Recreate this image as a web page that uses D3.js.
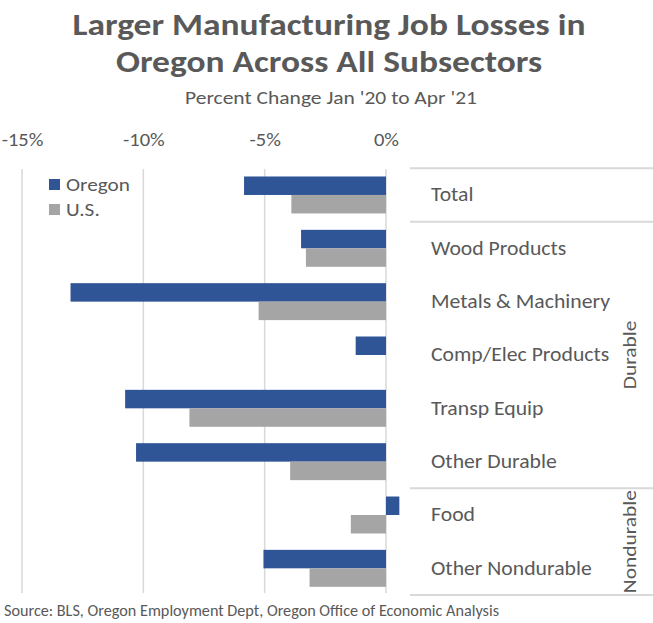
<!DOCTYPE html>
<html>
<head>
<meta charset="utf-8">
<script src="https://cdn.jsdelivr.net/npm/d3@7"></script>
<style>
  html, body { margin: 0; padding: 0; background: #ffffff; }
  svg { display: block; }
  text { font-family: Carlito, Calibri, Lato, "Open Sans", sans-serif; fill: #595959; }
</style>
</head>
<body>
<svg id="chart" width="653" height="623"></svg>
<script>
// Manufacturing subsectors, percent change Jan '20 to Apr '21
const categories = ["Total", "Wood Products", "Metals & Machinery", "Comp/Elec Products",
                    "Transp Equip", "Other Durable", "Food", "Other Nondurable"];
const seriesNames = ["Oregon", "U.S."];
const oregon = [-5.85, -3.5, -13.0, -1.25, -10.75, -10.3, 0.55, -5.05];
const us     = [-3.9, -3.3, -5.25, 0.0, -8.1, -3.95, -1.45, -3.15];
const tickValues = [-15, -10, -5, 0];
const groupNames = ["Durable", "Nondurable"];
const groupFirst = ["Wood Products", "Food"];
const groupLast  = ["Other Durable", "Other Nondurable"];

const titleLines = ["Larger Manufacturing Job Losses in", "Oregon Across All Subsectors"];
const subtitle = "Percent Change Jan '20 to Apr '21";
const source = "Source: BLS, Oregon Employment Dept, Oregon Office of Economic Analysis";

const colors = { "Oregon": "#2F5597", "U.S.": "#A5A5A5" };
const gridColor = "#D9D9D9";

// Widen the fallback face horizontally so a text run spans the intended width
function widen(sel, k) {
  sel.each(function () {
    const len = this.getComputedTextLength();
    d3.select(this).attr("textLength", len * k).attr("lengthAdjust", "spacingAndGlyphs");
  });
}
function widthOf(sel) {
  let w = 0;
  sel.each(function () { w = Math.max(w, this.getComputedTextLength()); });
  return w;
}

const svg = d3.select("#chart");

const plot = { left: 22, right: 386, top: 168.3, bottom: 595 };

const x = d3.scaleLinear().domain([-15, 0]).range([plot.left, plot.right]);
const y = d3.scaleBand().domain(categories).range([plot.top, plot.bottom]).paddingInner(0).paddingOuter(0);
const ySub = d3.scaleBand().domain(seriesNames).range([0, y.bandwidth()]).paddingInner(0).paddingOuter(0.443);

// Title and subtitle
const title = svg.append("g");
const tl = title.selectAll("text.title").data(titleLines).join("text")
  .attr("class", "title")
  .attr("x", 329).attr("y", (d, i) => 35 + i * 37)
  .attr("text-anchor", "middle")
  .style("font-size", "31px").style("font-weight", 700)
  .text(d => d);
widen(tl, 513 / widthOf(tl));
const st = title.append("text")
  .attr("x", 331).attr("y", 104)
  .attr("text-anchor", "middle")
  .style("font-size", "18.5px")
  .text(subtitle);
widen(st, 292 / widthOf(st));

// Vertical gridlines and top tick labels
const xAxis = d3.axisTop(x).tickValues(tickValues).tickSize(0).tickPadding(0)
  .tickFormat(d => d + "%");
const ax = svg.append("g").attr("transform", "translate(0,146)").call(xAxis);
ax.select(".domain").remove();
ax.selectAll("text").style("font-size", "19px").attr("fill", "#595959")
  .attr("font-family", null).attr("dy", 0);
widen(ax.selectAll("text"), 1.08);

svg.append("g").selectAll("line").data(tickValues).join("line")
  .attr("x1", d => x(d)).attr("x2", d => x(d))
  .attr("y1", 169).attr("y2", 593)
  .attr("stroke", gridColor).attr("stroke-width", 1.5);

// Bars
const rows = categories.map((c, i) => ({ cat: c, values: [
  { series: "Oregon", v: oregon[i] }, { series: "U.S.", v: us[i] }] }));
const barG = svg.append("g");
rows.forEach(r => {
  barG.selectAll(null).data(r.values).join("rect")
    .attr("x", d => x(Math.min(0, d.v)))
    .attr("width", d => Math.abs(x(d.v) - x(0)))
    .attr("y", d => y(r.cat) + ySub(d.series))
    .attr("height", ySub.bandwidth())
    .attr("fill", d => colors[d.series]);
});

// Category axis on the right with group separators
const catX = 431;
const cl = svg.append("g").selectAll("text").data(categories).join("text")
  .attr("x", catX)
  .attr("y", d => y(d) + y.bandwidth() / 2 + 6.5)
  .style("font-size", "19.5px")
  .text(d => d);
widen(cl, 179 / widthOf(cl));

const sepY = [y(categories[0]), y(groupFirst[0]), y(groupFirst[1]), y(groupLast[1]) + y.bandwidth()];
svg.append("g").selectAll("line").data(sepY).join("line")
  .attr("x1", 410).attr("x2", 653)
  .attr("y1", d => d).attr("y2", d => d)
  .attr("stroke", gridColor).attr("stroke-width", 2);

const gl = svg.append("g").selectAll("text").data(groupNames).join("text")
  .attr("transform", (d, i) => {
    const cy = (y(groupFirst[i]) + y(groupLast[i]) + y.bandwidth()) / 2;
    return `translate(636,${cy}) rotate(-90)`;
  })
  .attr("text-anchor", "middle")
  .style("font-size", "19px")
  .text(d => d);
widen(gl, 103 / widthOf(gl));

// Legend
const legend = svg.append("g").attr("transform", "translate(49,179)");
const li = legend.selectAll("g").data(seriesNames).join("g")
  .attr("transform", (d, i) => `translate(0,${i * 25})`);
li.append("rect").attr("width", 11).attr("height", 11).attr("fill", d => colors[d]);
const lt = li.append("text").attr("x", 17).attr("y", 11.5).style("font-size", "19px").text(d => d);
widen(lt, 64 / widthOf(lt));

// Source note
const src = svg.append("text")
  .attr("x", 4).attr("y", 616)
  .style("font-size", "15.5px")
  .text(source);
widen(src, 495 / widthOf(src));
</script>
</body>
</html>
